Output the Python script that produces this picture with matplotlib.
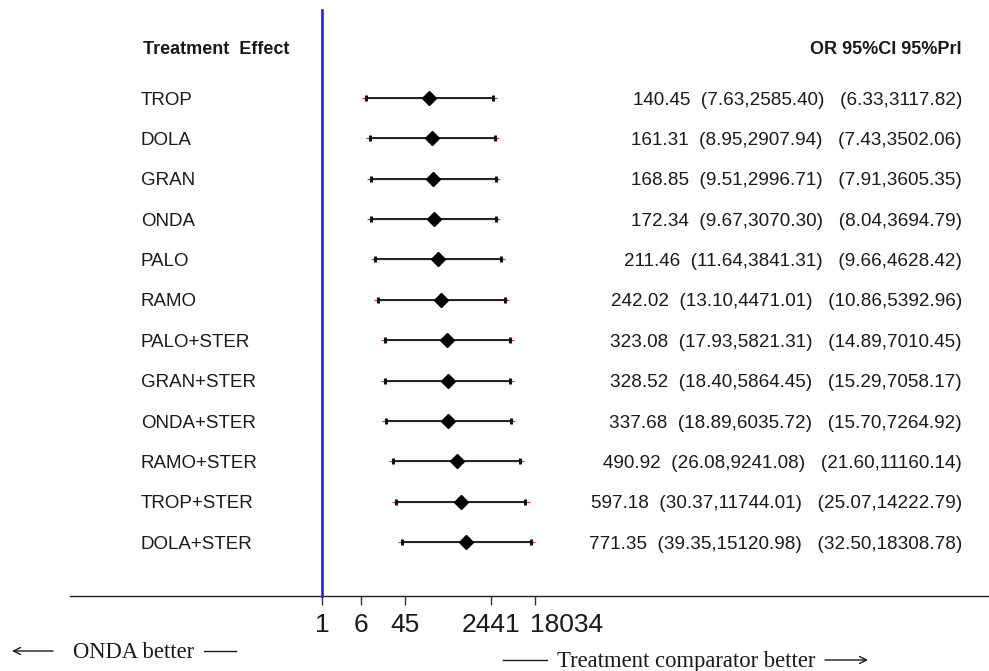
import numpy as np
import matplotlib
matplotlib.use("Agg")
import matplotlib.pyplot as plt
import matplotlib.transforms as mtransforms

# Network meta-analysis results versus ONDA (odds ratios)
treatments = ["TROP", "DOLA", "GRAN", "ONDA", "PALO", "RAMO",
              "PALO+STER", "GRAN+STER", "ONDA+STER", "RAMO+STER",
              "TROP+STER", "DOLA+STER"]
or_vals = [140.45, 161.31, 168.85, 172.34, 211.46, 242.02,
           323.08, 328.52, 337.68, 490.92, 597.18, 771.35]
ci_lo = [7.63, 8.95, 9.51, 9.67, 11.64, 13.10,
         17.93, 18.40, 18.89, 26.08, 30.37, 39.35]
ci_hi = [2585.40, 2907.94, 2996.71, 3070.30, 3841.31, 4471.01,
         5821.31, 5864.45, 6035.72, 9241.08, 11744.01, 15120.98]
pri_lo = [6.33, 7.43, 7.91, 8.04, 9.66, 10.86,
          14.89, 15.29, 15.70, 21.60, 25.07, 32.50]
pri_hi = [3117.82, 3502.06, 3605.35, 3694.79, 4628.42, 5392.96,
          7010.45, 7058.17, 7264.92, 11160.14, 14222.79, 18308.78]
tick_vals = [1, 6, 45, 2441, 18034]
tick_labels = ["1", "6", "45", "2441", "18034"]

W, H = 989, 671
fig = plt.figure(figsize=(W / 100, H / 100), dpi=100)
ax = fig.add_axes([0, 0, 1, 1])

# horizontal layout: log10 scale, 50 px per decade, null line at x=322 px
x0, px_dec = 322.0, 50.0
ax.set_xscale("log")
ax.set_xlim(10 ** (-x0 / px_dec), 10 ** ((W - x0) / px_dec))

# vertical layout: one unit per row
row0, row_h = 98.0, 40.36
ax.set_ylim((H - row0) / row_h, -row0 / row_h)


def ypix(p):
    return (p - row0) / row_h


rows = np.arange(len(treatments))
txt = "#1a1a1a"
sans = "Liberation Sans"

# prediction intervals (thin red), confidence intervals (black), point estimates
ax.hlines(rows, pri_lo, pri_hi, color="#d03a3a", lw=0.9, zorder=2)
ax.hlines(rows, ci_lo, ci_hi, color="#222222", lw=1.4, zorder=3)
ax.plot(ci_lo, rows, ls="none", marker="|", ms=5, mew=2.2, color="#111111", zorder=4)
ax.plot(ci_hi, rows, ls="none", marker="|", ms=5, mew=2.2, color="#111111", zorder=4)
ax.plot(or_vals, rows, ls="none", marker="D", ms=7, color="black", zorder=5)

# line of no effect
y_axis = ypix(596)
ax.plot([1, 1], [ypix(10), y_axis], color="#2626c8", lw=1.9, zorder=6)

# labels on the left and estimates on the right (baseline half a cap height below row)
xa = ax.get_yaxis_transform()  # x in axes fraction, y in data
base_off = 6.7 / row_h
for i, name in enumerate(treatments):
    ax.text(141 / W, i + base_off, name, transform=xa, ha="left", va="baseline",
            fontsize=13.5, family=sans, color=txt)
    s = f"{or_vals[i]:.2f}  ({ci_lo[i]:.2f},{ci_hi[i]:.2f})   ({pri_lo[i]:.2f},{pri_hi[i]:.2f})"
    ax.text(962 / W, i + base_off, s, transform=xa, ha="right", va="baseline",
            fontsize=13.6, family=sans, color=txt)

ax.text(143 / W, ypix(54.5), "Treatment  Effect", transform=xa, ha="left",
        va="baseline", fontsize=13, family=sans, weight="bold", color=txt)
ax.text(962 / W, ypix(54.5), "OR 95%CI 95%PrI", transform=xa, ha="right",
        va="baseline", fontsize=13, family=sans, weight="bold", color=txt)

# x axis
for side in ("top", "left", "right"):
    ax.spines[side].set_visible(False)
ax.spines["bottom"].set_position(("data", y_axis))
ax.spines["bottom"].set_bounds(10 ** ((70 - x0) / px_dec), 10 ** ((W - x0) / px_dec))
ax.spines["bottom"].set_linewidth(1.0)
ax.spines["bottom"].set_color("#222222")
ax.set_yticks([])
ax.set_xticks(tick_vals)
ax.set_xticklabels(tick_labels, family=sans, fontsize=19, color=txt)
ax.xaxis.set_minor_locator(matplotlib.ticker.NullLocator())
ax.tick_params(axis="x", length=6.5, width=1.0, color="#333333", pad=5.5)
last = ax.get_xticklabels()[-1]
last.set_transform(last.get_transform() +
                   mtransforms.ScaledTranslation(32 / 100, 0, fig.dpi_scale_trans))

# direction captions with arrows and dashes
serif = "Liberation Serif"
cap = dict(transform=xa, ha="left", va="baseline", fontsize=16.3, family=serif, color=txt)
ax.text(73 / W, ypix(658), "ONDA better", **cap)
ax.text(557 / W, ypix(667), "Treatment comparator better", **cap)

arrow = dict(arrowstyle="-|>,head_length=0.55,head_width=0.22", lw=1.0,
             color=txt, shrinkA=0, shrinkB=0)
arrow = dict(arrowstyle="->,head_length=0.5,head_width=0.25", lw=1.0,
             color=txt, shrinkA=0, shrinkB=0)
ax.annotate("", xy=(12 / W, ypix(651)), xytext=(53 / W, ypix(651)),
            xycoords=xa, textcoords=xa, arrowprops=arrow)
ax.annotate("", xy=(868 / W, ypix(660)), xytext=(825 / W, ypix(660)),
            xycoords=xa, textcoords=xa, arrowprops=arrow)
ax.plot([204 / W, 236 / W], [ypix(651)] * 2, transform=xa, color=txt, lw=1.0)
ax.plot([503 / W, 547 / W], [ypix(660)] * 2, transform=xa, color=txt, lw=1.0)

fig.savefig("out.png", dpi=100, facecolor="white")
